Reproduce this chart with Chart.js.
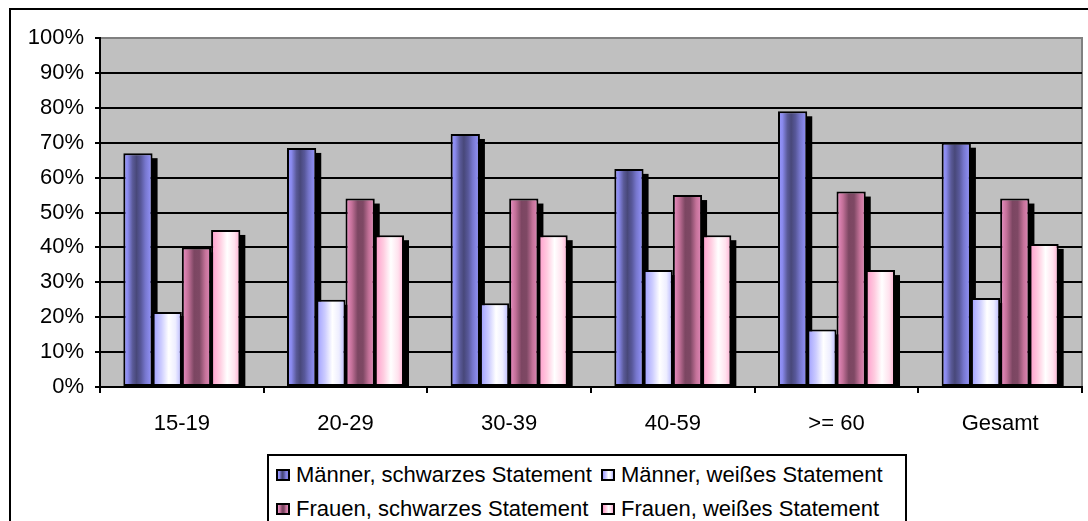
<!DOCTYPE html>
<html>
<head>
<meta charset="utf-8">
<script src="https://cdn.jsdelivr.net/npm/chart.js@4/dist/chart.umd.min.js"></script>
<style>
  html, body { margin: 0; padding: 0; background: #fff; overflow: hidden; }
  #wrap { position: relative; width: 1088px; height: 521px; overflow: hidden; }
  #frame { position: absolute; left: 9px; top: 8px; width: 2000px; height: 2000px; border: 2px solid #000; }
  #chart { position: absolute; left: 0; top: 0; }
  #legend { position: absolute; left: 267px; top: 454px; width: 636px; height: 120px;
            border: 2px solid #000; background: #fff;
            font-family: "Liberation Sans", Arial, sans-serif; font-size: 22px; color: #000; }
  .item { position: absolute; height: 24px; display: flex; align-items: center; white-space: nowrap; }
  .sw { box-sizing: border-box; width: 14px; height: 12px; border: 2px solid #000; margin-right: 6px; }
</style>
</head>
<body>
<div id="wrap">
  <div id="frame"></div>
  <canvas id="chart" width="1088" height="521"></canvas>
  <div id="legend"></div>
</div>
<script>
// Altersgruppen
const categories = ['15-19', '20-29', '30-39', '40-59', '>= 60', 'Gesamt'];

// Anteile in Prozent
const maennerSchwarz = [67, 68.5, 72.5, 62.5, 79, 70];
const maennerWeiss   = [21.5, 25, 24, 33.5, 16.5, 25.5];
const frauenSchwarz  = [40, 54, 54, 55, 56, 54];
const frauenWeiss    = [45, 43.5, 43.5, 43.5, 33.5, 41];

const seriesNames = [
  'Männer, schwarzes Statement',
  'Männer, weißes Statement',
  'Frauen, schwarzes Statement',
  'Frauen, weißes Statement'
];

const yTicks = [0, 10, 20, 30, 40, 50, 60, 70, 80, 90, 100];

// Horizontal colour ramps for each series (cylinder-like shading)
const shading = [
  [[0, '#9a9aff'], [0.15, '#8a8aee'], [0.32, '#5a5a98'], [0.45, '#48487a'], [0.6, '#58589a'], [0.75, '#7676cc'], [0.9, '#8a8aec'], [1, '#7c7ada']],
  [[0, '#9c9cff'], [0.3, '#ccccff'], [0.55, '#ffffff'], [0.78, '#eeeeff'], [1, '#b4b4ff']],
  [[0, '#f092c8'], [0.22, '#c27098'], [0.42, '#7c4662'], [0.6, '#7e4864'], [0.8, '#c47299'], [1, '#e48abb']],
  [[0, '#ff9acb'], [0.3, '#ffcce0'], [0.55, '#ffffff'], [0.8, '#ffe2ee'], [1, '#ffaad0']]
];

const values = [maennerSchwarz, maennerWeiss, frauenSchwarz, frauenWeiss];

const FONT = '"Liberation Sans", Arial, sans-serif';
Chart.defaults.font.family = FONT;
Chart.defaults.font.size = 22;
Chart.defaults.color = '#000';

// Grey plot area with its thin frame
const plotBackground = {
  id: 'plotBackground',
  beforeDraw(chart) {
    const { ctx, chartArea: a } = chart;
    ctx.save();
    ctx.fillStyle = '#c0c0c0';
    ctx.fillRect(a.left, a.top, a.right - a.left, a.bottom - a.top);
    ctx.strokeStyle = '#808080';
    ctx.lineWidth = 2;
    ctx.strokeRect(a.left, a.top, a.right - a.left, a.bottom - a.top);
    ctx.restore();
  }
};

// Shaded fills per bar plus the dark depth strip on each bar's right side
const barShading = {
  id: 'barShading',
  beforeDatasetsDraw(chart) {
    const ctx = chart.ctx;
    chart.data.datasets.forEach((ds, i) => {
      chart.getDatasetMeta(i).data.forEach(bar => {
        const left = bar.x - bar.width / 2;
        const right = bar.x + bar.width / 2;
        const g = ctx.createLinearGradient(left, 0, right, 0);
        shading[i].forEach(([o, c]) => g.addColorStop(o, c));
        bar.options.backgroundColor = g;
      });
    });
    ctx.save();
    ctx.fillStyle = '#000';
    chart.data.datasets.forEach((ds, i) => {
      chart.getDatasetMeta(i).data.forEach(bar => {
        const right = bar.x + bar.width / 2;
        const top = bar.y + 5;
        if (bar.base > top) ctx.fillRect(right - 1, top, 6, bar.base - top);
      });
    });
    ctx.restore();
  }
};

const chart = new Chart(document.getElementById('chart'), {
  type: 'bar',
  data: {
    labels: categories,
    datasets: values.map((v, i) => ({
      label: seriesNames[i],
      data: v,
      backgroundColor: () => shading[i][0][1],
      borderColor: '#000',
      borderWidth: 2,
      borderSkipped: false,
      categoryPercentage: 0.715,
      barPercentage: 1
    }))
  },
  options: {
    responsive: false,
    animation: false,
    events: [],
    layout: { padding: { top: 38, right: 6, bottom: 86, left: 0 } },
    plugins: {
      legend: { display: false },
      tooltip: { enabled: false }
    },
    scales: {
      x: {
        grid: { display: true, drawOnChartArea: false, drawTicks: true, tickLength: 6, color: '#000', lineWidth: 2, offset: true },
        border: { display: true, color: '#000', width: 2 },
        ticks: { padding: 18, font: { size: 22 } },
        afterFit(scale) { scale.height = 48; }
      },
      y: {
        min: 0,
        max: 100,
        afterBuildTicks(scale) { scale.ticks = yTicks.map(v => ({ value: v })); },
        grid: {
          color: c => (c.tick && c.tick.value === 100) ? '#808080' : '#000',
          tickColor: '#000',
          lineWidth: 2,
          tickLength: 5,
          drawTicks: true
        },
        border: { display: true, color: '#000', width: 2 },
        ticks: { padding: 11, callback: v => v + '%', font: { size: 22 } },
        afterFit(scale) { scale.width = 100; }
      }
    }
  },
  plugins: [plotBackground, barShading]
});

// Legend box built from the chart's own legend items
(function buildLegend() {
  const box = document.getElementById('legend');
  const items = Chart.defaults.plugins.legend.labels.generateLabels(chart);
  const cols = [7, 332];
  const rows = [6.5, 40.5];
  items.forEach((it, k) => {
    const el = document.createElement('div');
    el.className = 'item';
    el.style.left = cols[k % 2] + 'px';
    el.style.top = rows[Math.floor(k / 2)] + 'px';
    const sw = document.createElement('span');
    sw.className = 'sw';
    const stops = shading[it.datasetIndex].map(([o, c]) => c + ' ' + (o * 100) + '%').join(', ');
    sw.style.background = 'linear-gradient(to right, ' + stops + ')';
    const tx = document.createElement('span');
    tx.textContent = it.text;
    el.appendChild(sw);
    el.appendChild(tx);
    box.appendChild(el);
  });
})();
</script>
</body>
</html>
